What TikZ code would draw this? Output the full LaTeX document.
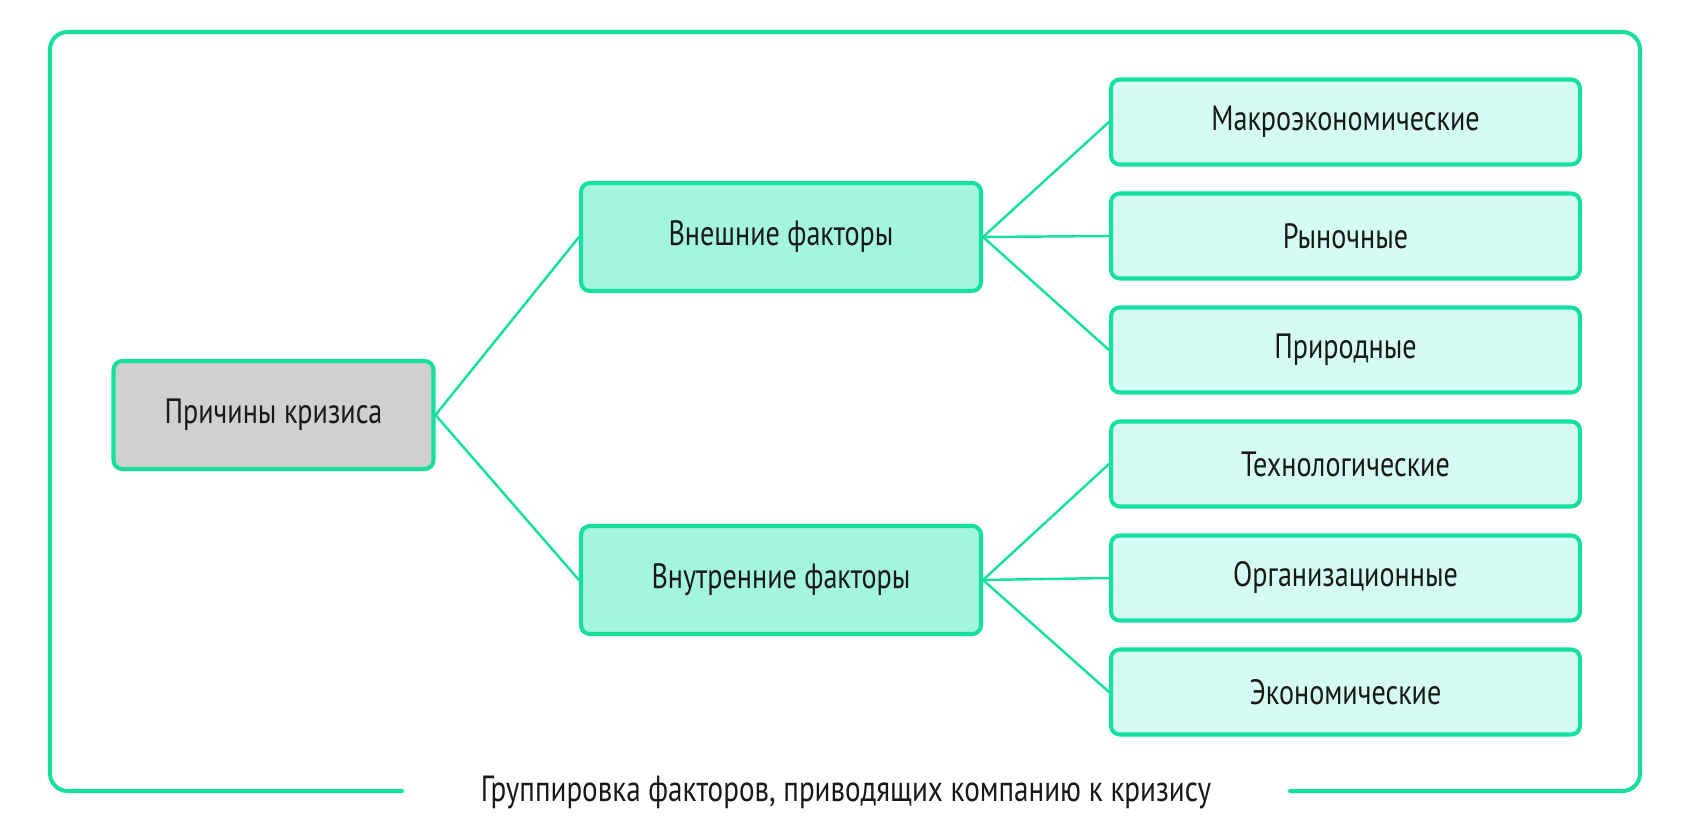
\documentclass[tikz,border=0pt]{standalone}
\usepackage{fontspec}
\setmainfont{PT Sans}[FakeStretch=0.8]
\definecolor{mint}{RGB}{22,224,160}
\definecolor{midfill}{RGB}{164,245,224}
\definecolor{leaffill}{RGB}{213,252,242}
\definecolor{rootfill}{RGB}{208,208,208}
\tikzset{
  box/.style={draw=mint,line width=2.3pt,rounded corners=5pt,text=black!90,font=\fontsize{20}{24}\selectfont},
  rootbox/.style={box,fill=rootfill,minimum width=320\unitpx,minimum height=108\unitpx},
  midbox/.style={box,fill=midfill,minimum width=400\unitpx,minimum height=108\unitpx},
  leafbox/.style={box,fill=leaffill,minimum width=469\unitpx,minimum height=85\unitpx},
  link/.style={draw=mint,line width=1.4pt}
}
\newcommand{\unitpx}{*0.02cm}
\begin{document}
\begin{tikzpicture}[x=0.02cm,y=-0.02cm,line join=round,line cap=round]
			\useasboundingbox (0,0) rectangle (1693,830);
			% frame with caption gap
			\draw[mint,line width=2.3pt,rounded corners=10pt] (402,791)--(50,791)--(50,32)--(1640,32)--(1640,791)--(1290,791);
			\node[font=\fontsize{20.7}{24}\selectfont,text=black!90] (caption) at (846,792) {Группировка факторов, приводящих компанию к кризису};
			% boxes
			\node[rootbox] (root) at (273.5,415) {Причины кризиса};
			\node[midbox] (ext) at (781,237) {Внешние факторы};
			\node[midbox] (int) at (781,580) {Внутренние факторы};
			\node[leafbox] (macro) at (1345.5,122) {Макроэкономические};
			\node[leafbox] (market) at (1345.5,236) {Рыночные};
			\node[leafbox] (nature) at (1345.5,350) {Природные};
			\node[leafbox] (tech) at (1345.5,464) {Технологические};
			\node[leafbox] (org) at (1345.5,578) {Организационные};
			\node[leafbox] (econ) at (1345.5,692) {Экономические};
			% links
			\path[link] (root.east)--(ext.west) (root.east)--(int.west);
			\foreach \leaf in {macro,market,nature} \path[link] (ext.east)--(\leaf.west);
			\foreach \leaf in {tech,org,econ} \path[link] (int.east)--(\leaf.west);
		\end{tikzpicture}
\end{document}
